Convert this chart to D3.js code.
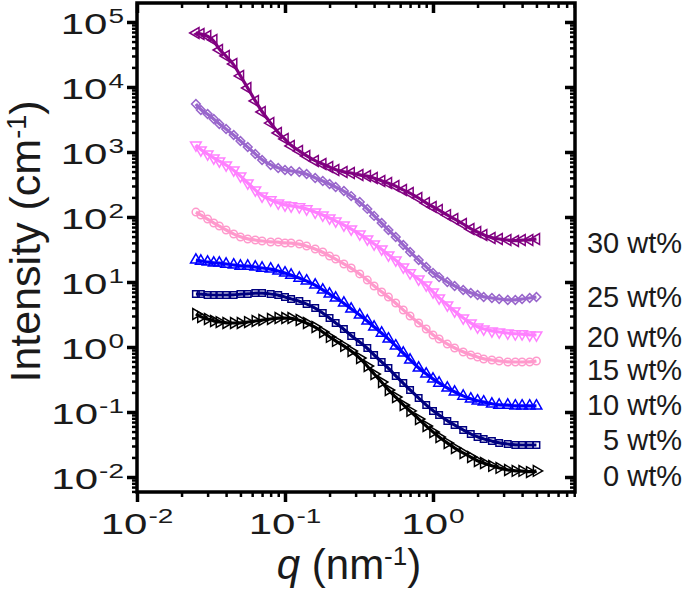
<!DOCTYPE html>
<html>
<head>
<meta charset="utf-8">
<script src="https://cdn.jsdelivr.net/npm/d3@7"></script>
<style>
  html, body { margin: 0; padding: 0; background: #fff; }
  svg { display: block; font-family: "Liberation Sans", Arial, sans-serif; }
</style>
</head>
<body>
<div id="chart"></div>
<script>
// ---------------- data ----------------
const seriesNames = ["0 wt%", "5 wt%", "10 wt%", "15 wt%", "20 wt%", "25 wt%", "30 wt%"];

const qValues = [0.025, 0.027, 0.03, 0.033, 0.036, 0.04, 0.045, 0.05, 0.056, 0.063, 0.07, 0.08,
  0.09, 0.1, 0.11, 0.125, 0.14, 0.16, 0.18, 0.2, 0.22, 0.25, 0.28, 0.32, 0.36, 0.4, 0.45, 0.5,
  0.56, 0.63, 0.7, 0.8, 0.9, 1.0, 1.1, 1.25, 1.4, 1.6, 1.8, 2.0, 2.2, 2.5, 2.8, 3.2, 3.6, 4.0, 4.5, 5.0];

const I_0wt = [3.22, 2.89, 2.70, 2.51, 2.42, 2.34, 2.34, 2.34, 2.42, 2.51, 2.60, 2.70, 2.79, 2.79,
  2.79, 2.60, 2.34, 2.03, 1.70, 1.43, 1.24, 1.04, 0.868, 0.677, 0.510, 0.384, 0.289, 0.218, 0.170,
  0.128, 0.104, 0.0780, 0.0609, 0.0492, 0.0412, 0.0333, 0.0279, 0.0234, 0.0203, 0.0176, 0.0164,
  0.0148, 0.0138, 0.0128, 0.0124, 0.0124, 0.0119, 0.0124];

const I_5wt = [6.54, 6.54, 6.31, 6.31, 6.31, 6.31, 6.31, 6.54, 6.54, 6.77, 6.77, 6.54, 6.31, 5.88,
  5.47, 5.10, 4.59, 3.98, 3.33, 2.79, 2.34, 1.89, 1.48, 1.19, 0.965, 0.753, 0.588, 0.475, 0.358,
  0.279, 0.218, 0.164, 0.128, 0.104, 0.0899, 0.0727, 0.0631, 0.0528, 0.0459, 0.0412, 0.0384,
  0.0358, 0.0333, 0.0322, 0.0311, 0.0311, 0.0311, 0.0311];

const I_10wt = [21.8, 21.0, 20.3, 19.6, 19.6, 18.9, 18.3, 17.6, 17.6, 17.0, 16.4, 15.9, 14.8, 13.8,
  12.8, 11.5, 10.4, 8.99, 7.53, 6.54, 5.67, 4.75, 3.84, 3.11, 2.51, 2.03, 1.64, 1.33, 1.04, 0.808,
  0.631, 0.475, 0.384, 0.322, 0.279, 0.234, 0.203, 0.176, 0.159, 0.148, 0.143, 0.133, 0.128, 0.128,
  0.124, 0.124, 0.124, 0.124];

const I_15wt = [119, 107, 93.1, 80.8, 72.7, 63.1, 54.7, 49.2, 45.9, 44.3, 42.7, 41.2, 41.2, 39.8,
  39.8, 38.4, 35.8, 32.2, 28.9, 25.1, 22.6, 18.9, 16.4, 13.3, 10.7, 8.68, 7.02, 5.88, 4.75, 3.71,
  3.00, 2.34, 1.89, 1.53, 1.33, 1.11, 0.965, 0.838, 0.753, 0.702, 0.654, 0.631, 0.609, 0.588, 0.588,
  0.588, 0.588, 0.609];

const I_20wt = [1281, 1073, 931, 808, 727, 631, 528, 427, 333, 260, 210, 183, 164, 153, 148, 143,
  133, 119, 107, 96.5, 86.8, 75.3, 65.4, 54.7, 45.9, 38.4, 32.2, 26.0, 21.8, 17.0, 13.8, 11.1, 8.99,
  7.02, 5.67, 4.43, 3.58, 2.79, 2.34, 2.03, 1.89, 1.76, 1.70, 1.64, 1.59, 1.59, 1.53, 1.53];

const I_25wt = [5474, 4427, 3841, 3218, 2696, 2258, 1826, 1476, 1194, 931, 753, 631, 567, 528, 510,
  492, 459, 398, 358, 322, 289, 251, 210, 170, 133, 104, 80.8, 63.1, 49.2, 37.1, 28.9, 21.8, 17.0,
  13.8, 11.9, 10.0, 8.68, 7.53, 6.77, 6.31, 5.88, 5.67, 5.47, 5.28, 5.28, 5.47, 5.67, 5.88];

const I_30wt = [67700, 65400, 60900, 52800, 37100, 30000, 22600, 14800, 9650, 6090, 4120, 2790,
  1960, 1590, 1240, 1040, 868, 727, 654, 588, 528, 492, 475, 443, 427, 398, 358, 333, 300, 260,
  234, 196, 164, 143, 128, 107, 93.1, 78.0, 65.4, 58.8, 52.8, 47.5, 45.9, 44.3, 42.7, 44.3, 44.3, 45.9];

const seriesValues = [I_0wt, I_5wt, I_10wt, I_15wt, I_20wt, I_25wt, I_30wt];

// intensity at which each concentration label sits (right of the frame)
const labelIntensity = [0.0104, 0.0371, 0.128, 0.443, 1.43, 5.88, 39.8];

const xMajorTicks = [0.01, 0.1, 1];
const xMajorExp = ["-2", "-1", "0"];
const yMajorTicks = [0.01, 0.1, 1, 10, 100, 1000, 10000, 100000];
const yMajorExp = ["-2", "-1", "0", "1", "2", "3", "4", "5"];

// ---------------- styles ----------------
const colors = ["#000000", "#000080", "#0000ff", "#ff99cc", "#ff80ff", "#9966cc", "#800080"];
const shapes = ["triRight", "square", "triUp", "circle", "triDown", "diamond", "triLeft"];

const W = 685, H = 596;
const L = 137, R = 575, T = 3, B = 492;
const STRETCH = 1.4;

const svg = d3.select("#chart").append("svg").attr("width", W).attr("height", H);

const x = d3.scaleLog().domain([0.01, 9.11]).range([L, R]);
const y = d3.scaleLog().domain([0.00588, 195900]).range([B, T]);

function minors(scale) {
  const [a, b] = scale.domain();
  const out = [];
  for (let e = Math.floor(Math.log10(a)); e <= Math.ceil(Math.log10(b)); e++) {
    for (let k = 2; k <= 9; k++) {
      const v = k * Math.pow(10, e);
      if (v > a && v < b) out.push(v);
    }
  }
  return out;
}
const xMinor = minors(x), yMinor = minors(y);

// ---------------- data marks ----------------
svg.append("defs").append("clipPath").attr("id", "clip")
  .append("rect").attr("x", L).attr("y", T).attr("width", R - L).attr("height", B - T);

const plotG = svg.append("g").attr("clip-path", "url(#clip)");

function symbolPath(shape) {
  const s = 50;
  switch (shape) {
    case "square": return { d: d3.symbol(d3.symbolSquare, 42)(), rot: 0 };
    case "circle": return { d: d3.symbol(d3.symbolCircle, 44)(), rot: 0 };
    case "diamond": return { d: d3.symbol(d3.symbolSquare, 38)(), rot: 45 };
    case "triUp": return { d: d3.symbol(d3.symbolTriangle, s)(), rot: 0 };
    case "triDown": return { d: d3.symbol(d3.symbolTriangle, s)(), rot: 180 };
    case "triLeft": return { d: d3.symbol(d3.symbolTriangle, s)(), rot: -90 };
    case "triRight": return { d: d3.symbol(d3.symbolTriangle, s)(), rot: 90 };
  }
}

const line = d3.line()
  .x(d => x(d[0]))
  .y(d => y(d[1]))
  .curve(d3.curveBasis);

seriesValues.forEach((vals, i) => {
  const pts = qValues.map((q, j) => [q, vals[j]]);
  const sym = symbolPath(shapes[i]);
  const g = plotG.append("g");
  g.selectAll("path.pt").data(pts).join("path")
    .attr("class", "pt")
    .attr("d", sym.d)
    .attr("transform", d => `translate(${x(d[0])},${y(d[1])}) rotate(${sym.rot})`)
    .attr("fill", "none")
    .attr("stroke", colors[i])
    .attr("stroke-width", 1.5);
  g.append("path")
    .datum(pts)
    .attr("d", line)
    .attr("fill", "none")
    .attr("stroke", colors[i])
    .attr("stroke-width", 3.2);
});

// ---------------- axes ----------------
function styleAxis(g, w) {
  g.select(".domain").remove();
  g.selectAll(".tick line").attr("stroke", "#000").attr("stroke-width", w);
  g.selectAll(".tick text").remove();
}
svg.append("g").attr("transform", `translate(0,${B})`)
  .call(d3.axisBottom(x).tickValues(xMajorTicks).tickSize(10).tickFormat(""))
  .call(g => styleAxis(g, 3.5));
svg.append("g").attr("transform", `translate(0,${B})`)
  .call(d3.axisBottom(x).tickValues(xMinor).tickSize(5).tickFormat(""))
  .call(g => styleAxis(g, 2.5));
svg.append("g").attr("transform", `translate(0,${T})`)
  .call(d3.axisTop(x).tickValues(xMajorTicks).tickSize(-10).tickFormat(""))
  .call(g => styleAxis(g, 3.5));
svg.append("g").attr("transform", `translate(0,${T})`)
  .call(d3.axisTop(x).tickValues(xMinor).tickSize(-5).tickFormat(""))
  .call(g => styleAxis(g, 2.5));
svg.append("g").attr("transform", `translate(${L},0)`)
  .call(d3.axisLeft(y).tickValues(yMajorTicks).tickSize(10).tickFormat(""))
  .call(g => styleAxis(g, 3.5));
svg.append("g").attr("transform", `translate(${L},0)`)
  .call(d3.axisLeft(y).tickValues(yMinor).tickSize(5).tickFormat(""))
  .call(g => styleAxis(g, 2.5));
svg.append("g").attr("transform", `translate(${R},0)`)
  .call(d3.axisRight(y).tickValues(yMajorTicks).tickSize(-10).tickFormat(""))
  .call(g => styleAxis(g, 3.5));
svg.append("g").attr("transform", `translate(${R},0)`)
  .call(d3.axisRight(y).tickValues(yMinor).tickSize(-5).tickFormat(""))
  .call(g => styleAxis(g, 2.5));

svg.append("rect").attr("x", L).attr("y", T).attr("width", R - L).attr("height", B - T)
  .attr("fill", "none").attr("stroke", "#000").attr("stroke-width", 3.5);

// ---------------- tick labels: "10" and exponent as separate, horizontally stretched texts ----------------
function stretchedText(str, size) {
  const t = svg.append("text")
    .attr("font-size", size)
    .attr("fill", "#1a1a1a")
    .text(str);
  const w = t.node().getComputedTextLength() * STRETCH;
  return { t, w };
}
function place(item, left, base) {
  item.t.attr("transform", `translate(${left},${base}) scale(${STRETCH},1)`);
}
function powLabel(anchorX, base, exp, mode) {
  const a = stretchedText("10", 30);
  const b = stretchedText(exp, 20);
  const gap = 1;
  const total = a.w + gap + b.w;
  const left = mode === "end" ? anchorX - total : anchorX - total / 2;
  place(a, left, base);
  place(b, left + a.w + gap, base - 11);
}
yMajorTicks.forEach((v, i) => powLabel(124, y(v) + 12, yMajorExp[i], "end"));
xMajorTicks.forEach((v, i) => powLabel(x(v), 534, xMajorExp[i], "middle"));

// ---------------- axis titles ----------------
const yt = svg.append("text")
  .attr("transform", `translate(40,${(T + B) / 2 - 6}) rotate(-90)`)
  .attr("text-anchor", "middle").attr("font-size", 43).attr("fill", "#1a1a1a");
yt.append("tspan").text("Intensity (cm");
yt.append("tspan").attr("font-size", 27).attr("dy", -14).text("-1");
yt.append("tspan").attr("dy", 14).text(")");

const xt = svg.append("text")
  .attr("transform", `translate(${(L + R) / 2 - 7},579)`)
  .attr("text-anchor", "middle").attr("font-size", 42).attr("fill", "#1a1a1a");
xt.append("tspan").attr("font-style", "italic").text("q");
xt.append("tspan").text(" (nm");
xt.append("tspan").attr("font-size", 26).attr("dy", -14).text("-1");
xt.append("tspan").attr("dy", 14).text(")");

// ---------------- series labels ----------------
seriesNames.forEach((name, i) => {
  svg.append("text")
    .attr("x", 682).attr("y", y(labelIntensity[i]))
    .attr("dy", "0.35em")
    .attr("text-anchor", "end")
    .attr("font-size", 29)
    .attr("fill", "#1a1a1a")
    .text(name);
});
</script>
</body>
</html>
